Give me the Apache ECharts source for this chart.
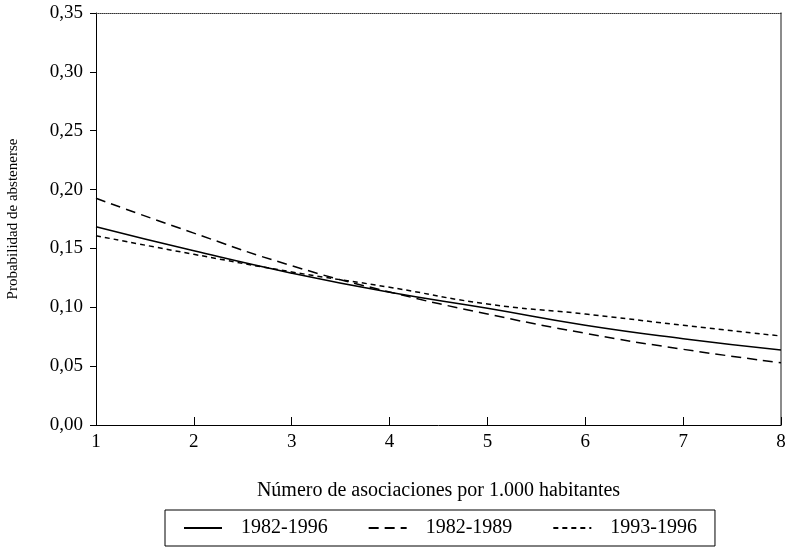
<!DOCTYPE html>
<html>
<head>
<meta charset="utf-8">
<script src="https://cdn.jsdelivr.net/npm/echarts@6/dist/echarts.min.js"></script>
<style>
  html, body { margin: 0; padding: 0; background: #fff; }
  #chart { width: 791px; height: 550px; }
</style>
</head>
<body>
<div id="chart"></div>
<script>
// numbers of associations per 1,000 inhabitants
const xValues = [1, 2, 3, 4, 5, 6, 7, 8];
const yTicks = [0, 0.05, 0.1, 0.15, 0.2, 0.25, 0.3, 0.35];

const series8296 = [0.1685, 0.148, 0.129, 0.1127, 0.0991, 0.0847, 0.0733, 0.0637];
const series8289 = [0.1926, 0.163, 0.1353, 0.113, 0.0943, 0.0779, 0.0643, 0.0529];
const series9396 = [0.1608, 0.145, 0.130, 0.117, 0.1028, 0.0943, 0.0847, 0.0756];

const seriesNames = ["1982-1996", "1982-1989", "1993-1996"];
const dashTypes = ["solid", [10, 6], [5, 4]];

const font = "'Liberation Serif', 'DejaVu Serif', serif";

const chart = echarts.init(document.getElementById("chart"));

const pairs = (arr) => arr.map((v, i) => [xValues[i], v]);

const option = {
  animation: false,
  backgroundColor: "#fff",
  textStyle: { fontFamily: font, color: "#000" },
  grid: { left: 96, right: 10, top: 13, bottom: 125, containLabel: false, outerBoundsMode: "none" },
  xAxis: [
    {
      type: "value",
      min: 1,
      max: 8,
      interval: 1,
      name: "Número de asociaciones por 1.000 habitantes",
      nameLocation: "middle",
      nameGap: 56,
      nameTextStyle: { fontFamily: font, fontSize: 20, color: "#000" },
      axisLine: { lineStyle: { color: "#000", width: 1 } },
      axisTick: { inside: true, length: 8, lineStyle: { color: "#000" } },
      axisLabel: { fontFamily: font, fontSize: 19, color: "#000", margin: 8 },
      splitLine: { show: false },
    },
    {
      type: "value",
      position: "top",
      min: 1,
      max: 8,
      axisLine: { show: true, onZero: false, lineStyle: { color: "#333", type: [1, 1], width: 1 } },
      axisTick: { show: false },
      axisLabel: { show: false },
      splitLine: { show: false },
    },
  ],
  yAxis: [
    {
      type: "value",
      min: 0,
      max: 0.35,
      interval: 0.05,
      name: "Probabilidad de abstenerse",
      nameLocation: "middle",
      nameGap: 75,
      nameTextStyle: { fontFamily: font, fontSize: 15, color: "#000" },
      axisLine: { show: true, lineStyle: { color: "#000", width: 1 } },
      axisTick: { show: true, length: 6, lineStyle: { color: "#000" } },
      axisLabel: {
        fontFamily: font,
        fontSize: 19,
        color: "#000",
        margin: 13,
        formatter: (v) => yTicks.includes(Math.round(v * 100) / 100) ? v.toFixed(2).replace(".", ",") : "",
      },
      splitLine: { show: false },
    },
    {
      type: "value",
      position: "right",
      min: 0,
      max: 0.35,
      axisLine: { show: true, onZero: false, lineStyle: { color: "#666", width: 1.5 } },
      axisTick: { show: false },
      axisLabel: { show: false },
      splitLine: { show: false },
    },
  ],
  legend: {
    top: 510,
    left: 165,
    padding: [8, 18],
    itemGap: 40,
    itemWidth: 38,
    itemHeight: 14,
    borderColor: "#000",
    borderWidth: 1,
    borderRadius: 0,
    itemStyle: { opacity: 0 },
    textStyle: { fontFamily: font, fontSize: 20, color: "#000", padding: [0, 0, 0, 14] },
    data: seriesNames,
  },
  series: [series8296, series8289, series9396].map((d, i) => ({
    name: seriesNames[i],
    type: "line",
    smooth: true,
    symbol: "none",
    xAxisIndex: 0,
    yAxisIndex: 0,
    lineStyle: { color: "#000", width: 1.5, type: dashTypes[i] },
    itemStyle: { color: "#000" },
    data: pairs(d),
  })),
};

chart.setOption(option);
</script>
</body>
</html>
